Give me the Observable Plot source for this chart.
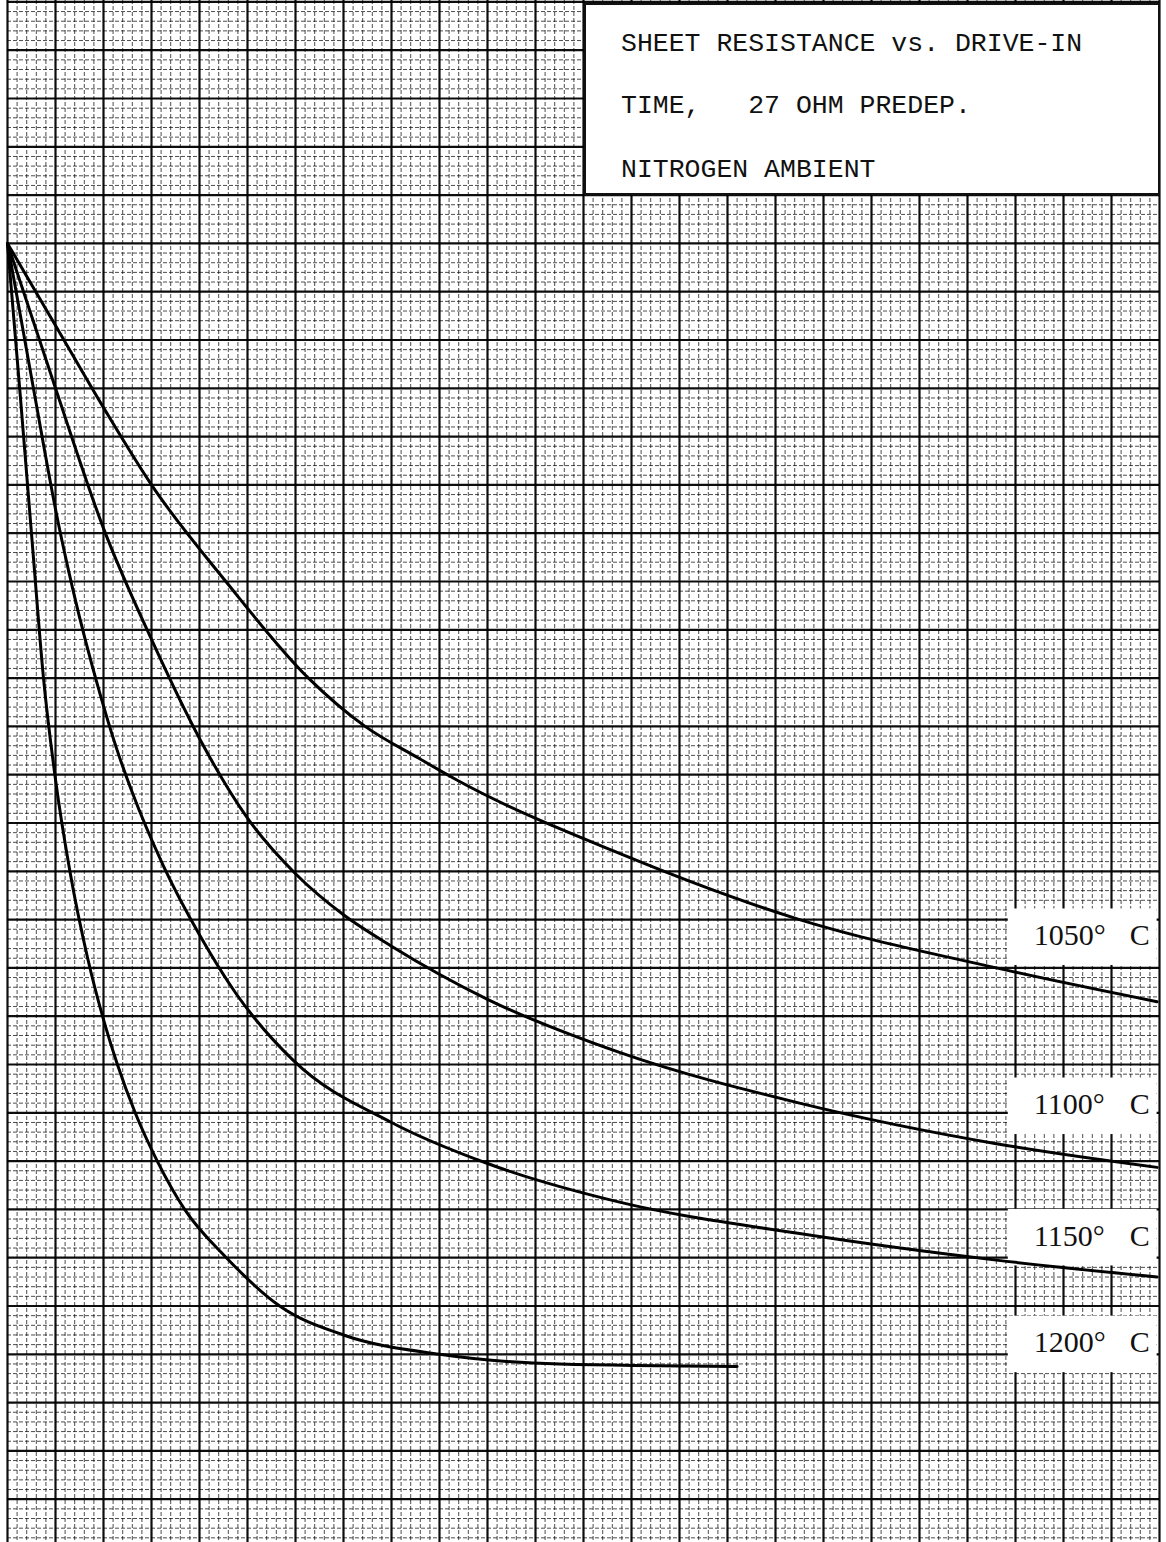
<!DOCTYPE html>
<html><head><meta charset="utf-8">
<script src="https://cdn.jsdelivr.net/npm/d3@7"></script>
<script src="https://cdn.jsdelivr.net/npm/@observablehq/plot@0.6"></script>
<style>
html,body{margin:0;padding:0;background:#fff;}
#wrap{position:relative;width:1166px;height:1542px;overflow:hidden;background:#fff;}
#title{position:absolute;left:584px;top:3px;width:572px;height:188px;background:#fff;border:2px solid #111;}
#title div{position:absolute;left:35px;font-family:"Liberation Mono",monospace;font-size:26.5px;line-height:26.5px;white-space:pre;color:#111;}
</style></head><body>
<div id="wrap"><div id="chart"></div>
<div id="title">
<div style="top:26px">SHEET RESISTANCE vs. DRIVE-IN</div>
<div style="top:88px">TIME,   27 OHM PREDEP.</div>
<div style="top:152px">NITROGEN AMBIENT</div>
</div></div>
<script>
// Drive-in time (grid divisions) and sheet resistance (ohms)
const temps = ["1050", "1100", "1150", "1200"];
const t1050 = [0, 1, 2, 3, 4.55, 6.27, 7.45, 8.55, 9.38, 12.75, 16.5, 20.6, 23.95];
const r1050 = [27, 25.3, 23.6, 22, 20, 18, 17, 16.35, 15.88, 14.37, 13.0, 12.0, 11.3];
const t1100 = [0, 1, 2, 3, 4, 5, 6, 7, 8, 10, 12.75, 16.5, 20.6, 23.95];
const r1100 = [27, 24, 21.1, 18.8, 16.75, 15.1, 13.95, 13.1, 12.45, 11.35, 10.25, 9.2, 8.36, 7.87];
const t1150 = [0, 0.54, 1.06, 1.37, 1.92, 2.27, 2.6, 3.24, 4.02, 4.76, 5.96, 8, 10, 12.75, 16.5, 20.6, 23.95];
const r1150 = [27, 24, 21.2, 19.8, 17.7, 16.55, 15.63, 14.13, 12.65, 11.47, 10.08, 8.8, 7.95, 7.15, 6.5, 5.95, 5.6];
const t1200 = [0, 0.27, 0.54, 0.75, 1.0, 1.3, 1.67, 1.98, 2.29, 2.66, 3.12, 3.69, 4.56, 5.67, 7, 9, 11.5, 15.2];
const r1200 = [27, 23.8, 20.5, 18, 15.9, 14, 12.2, 11, 10, 9, 8, 7, 6, 5.0, 4.4, 4.0, 3.8, 3.75];
const labelR = [12.67, 9.17, 6.45, 4.24];

const series = [
  {temp: temps[0], t: t1050, r: r1050},
  {temp: temps[1], t: t1100, r: r1100},
  {temp: temps[2], t: t1150, r: r1150},
  {temp: temps[3], t: t1200, r: r1200}
];
const rows = series.flatMap(s => s.t.map((t, i) => ({temp: s.temp, t, r: s.r[i]})));
const labels = temps.map((temp, i) => ({temp, r: labelR[i]}));

// page geometry of the graph paper
const W = 1166, H = 1542, X0 = 7, CELLX = 48.0, CELLY = 48.3, YZERO = 1547;
const xMax = (W - X0) / CELLX;
const yMin = (YZERO - H) / CELLY, yMax = YZERO / CELLY;
const gridXMax = 24;

const minorX = d3.range(0, gridXMax * 5 + 1).map(i => i / 5).filter(v => Math.abs(v - Math.round(v)) > 1e-6);
const majorX = d3.range(0, gridXMax + 1);
const minorY = d3.range(0, 33 * 5).map(i => i / 5).filter(v => Math.abs(v - Math.round(v)) > 1e-6 && v <= yMax);
const majorY = d3.range(0, 33).filter(v => v <= yMax);

const chart = Plot.plot({
  width: W, height: H,
  marginLeft: X0, marginRight: 0, marginTop: 0, marginBottom: 0,
  x: {domain: [0, xMax], axis: null},
  y: {domain: [yMin, yMax], axis: null},
  style: {background: "#fff"},
  marks: [
    Plot.ruleX(minorX, {stroke: "#000", strokeOpacity: 0.7, strokeWidth: 1, strokeDasharray: "4,2"}),
    Plot.ruleY(minorY, {x1: 0, x2: gridXMax, stroke: "#000", strokeOpacity: 0.7, strokeWidth: 1, strokeDasharray: "4,2"}),
    Plot.ruleX(majorX, {stroke: "#000", strokeOpacity: 0.95, strokeWidth: 2.2}),
    Plot.ruleY(majorY, {x1: 0, x2: gridXMax, stroke: "#000", strokeOpacity: 0.95, strokeWidth: 2.2}),
    Plot.rect(labels, {x1: gridXMax - 3.15, x2: gridXMax - 0.05, y1: d => d.r - 0.62, y2: d => d.r + 0.55, fill: "#fff"}),
    Plot.line(rows, {x: "t", y: "r", z: "temp", stroke: "#000", strokeWidth: 3, curve: "monotone-x"}),
    Plot.text(labels, {x: gridXMax - 2.62, y: "r", text: d => d.temp + "°", textAnchor: "start", fontSize: 30, fontFamily: "Liberation Serif", fill: "#111"}),
    Plot.text(labels, {x: gridXMax - 2.62, y: "r", text: () => "C", dx: 96, textAnchor: "start", fontSize: 30, fontFamily: "Liberation Serif", fill: "#111"})
  ]
});
document.getElementById("chart").appendChild(chart);
</script>
</body></html>
